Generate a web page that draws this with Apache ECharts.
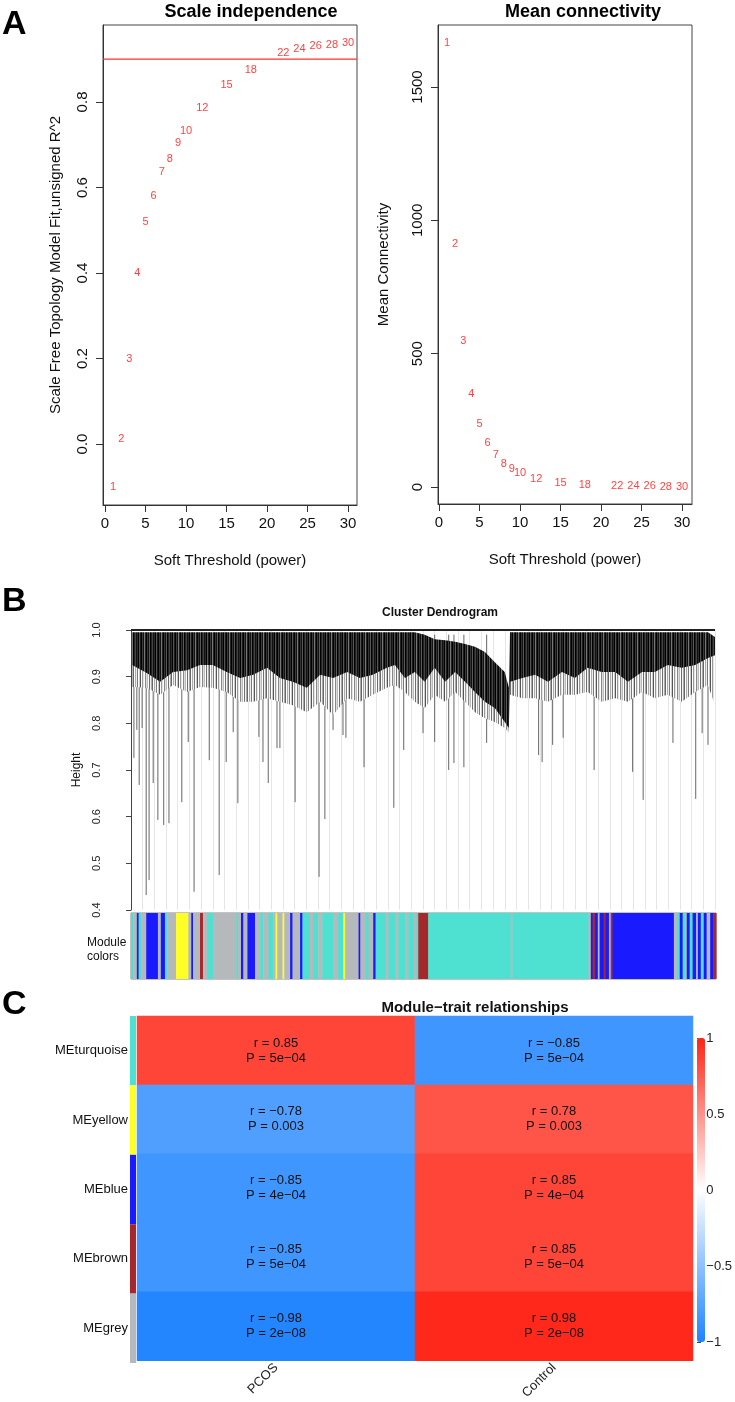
<!DOCTYPE html>
<html>
<head>
<meta charset="utf-8">
<script src="https://cdn.jsdelivr.net/npm/echarts@6/dist/echarts.min.js"></script>
<style>html,body{margin:0;padding:0;background:#fff}#main{width:735px;height:1402px}</style>
</head>
<body>
<div id="main"></div>
<script>
// ---- A: soft threshold selection ----
var powers = [1, 2, 3, 4, 5, 6, 7, 8, 9, 10, 12, 15, 18, 22, 24, 26, 28, 30];
var fitR2 = [-0.10, 0.012, 0.20, 0.40, 0.52, 0.58, 0.636, 0.666, 0.705, 0.733, 0.785, 0.84, 0.875, 0.914, 0.924, 0.931, 0.933, 0.937];
var meanK = [1665, 911, 547, 349, 236, 165, 120, 86, 67, 52, 30, 15, 7.5, 3, 2.5, 2, 1.5, 1.2];
var r2Cut = 0.9;
var powerTicks = [0, 5, 10, 15, 20, 25, 30];
var r2Ticks = [0, 0.2, 0.4, 0.6, 0.8];
var kTicks = [0, 500, 1000, 1500];

// ---- B: dendrogram (leaf order in per-mille, heights) ----
var leafPos      = [2, 27, 50, 72, 96, 118, 140, 164, 187, 209, 233, 255, 277, 301, 324, 346, 370, 392, 414, 438, 452, 469, 486, 503, 520, 538, 555, 572, 589, 606, 623, 640, 647, 649, 670, 692, 714, 738, 760, 782, 806, 829, 851, 875, 897, 919, 943, 966, 988, 1000];
var mergeTop     = [0.995, 0.995, 0.995, 0.995, 0.995, 0.995, 0.995, 0.995, 0.995, 0.995, 0.995, 0.995, 0.995, 0.995, 0.995, 0.995, 0.995, 0.995, 0.995, 0.995, 0.995, 0.995, 0.995, 0.99, 0.98, 0.978, 0.975, 0.97, 0.964, 0.953, 0.931, 0.91, 0.876, 0.995, 0.995, 0.995, 0.995, 0.995, 0.995, 0.995, 0.995, 0.995, 0.995, 0.995, 0.995, 0.995, 0.995, 0.995, 0.995, 0.985];
var coreBottom   = [0.925, 0.908, 0.889, 0.91, 0.914, 0.925, 0.925, 0.91, 0.897, 0.904, 0.919, 0.897, 0.889, 0.876, 0.904, 0.897, 0.91, 0.897, 0.904, 0.919, 0.925, 0.897, 0.91, 0.889, 0.919, 0.889, 0.91, 0.889, 0.867, 0.846, 0.833, 0.803, 0.79, 0.889, 0.897, 0.904, 0.889, 0.91, 0.897, 0.919, 0.91, 0.91, 0.889, 0.91, 0.91, 0.925, 0.919, 0.925, 0.94, 0.946];
var fringeBottom = [0.878, 0.876, 0.861, 0.882, 0.867, 0.878, 0.876, 0.867, 0.846, 0.846, 0.854, 0.846, 0.839, 0.824, 0.846, 0.818, 0.854, 0.846, 0.861, 0.876, 0.882, 0.867, 0.846, 0.833, 0.861, 0.846, 0.867, 0.846, 0.824, 0.811, 0.803, 0.79, 0.781, 0.861, 0.854, 0.854, 0.846, 0.861, 0.861, 0.867, 0.846, 0.854, 0.846, 0.867, 0.854, 0.861, 0.846, 0.867, 0.882, 0.839];
var dropPos    = [5, 10, 14, 19, 26, 31, 38, 46, 56, 65, 87, 98, 108, 134, 151, 163, 175, 183, 219, 226, 235, 250, 255, 281, 322, 332, 346, 363, 368, 399, 450, 467, 500, 520, 544, 553, 570, 609, 698, 704, 722, 740, 793, 859, 877, 928, 967, 978, 988];
var dropBottom = [0.726, 0.786, 0.668, 0.79, 0.432, 0.464, 0.672, 0.593, 0.582, 0.586, 0.631, 0.76, 0.439, 0.721, 0.475, 0.717, 0.781, 0.629, 0.771, 0.717, 0.672, 0.747, 0.747, 0.631, 0.471, 0.595, 0.786, 0.775, 0.769, 0.706, 0.619, 0.743, 0.779, 0.76, 0.7, 0.715, 0.706, 0.758, 0.732, 0.717, 0.754, 0.769, 0.7, 0.696, 0.636, 0.758, 0.638, 0.779, 0.754];

// module colour strip: start of each run (per-mille) and module
var moduleStart = [0, 4, 10, 13, 17, 26, 46, 51, 58, 62, 77, 98, 103, 106, 118, 123, 130, 140, 180, 183, 188, 192, 199, 212, 221, 226, 235, 243, 247, 250, 259, 262, 272, 276, 289, 293, 306, 312, 320, 327, 346, 354, 363, 366, 389, 392, 401, 406, 414, 418, 435, 440, 452, 457, 469, 474, 483, 488, 491, 508, 649, 652, 782, 786, 789, 793, 798, 801, 808, 811, 817, 820, 823, 928, 933, 938, 943, 947, 950, 955, 960, 966, 969, 974, 979, 984, 990, 995];
var moduleName = ['turquoise', 'grey', 'blue', 'turquoise', 'grey', 'blue', 'grey', 'blue', 'turquoise', 'grey', 'yellow', 'grey', 'blue', 'grey', 'brown', 'grey', 'turquoise', 'grey', 'turquoise', 'grey', 'blue', 'grey', 'blue', 'grey', 'turquoise', 'grey', 'turquoise', 'grey', 'yellow', 'grey', 'yellow', 'grey', 'blue', 'grey', 'blue', 'turquoise', 'grey', 'turquoise', 'grey', 'turquoise', 'grey', 'turquoise', 'yellow', 'grey', 'blue', 'grey', 'turquoise', 'grey', 'blue', 'turquoise', 'grey', 'turquoise', 'grey', 'turquoise', 'grey', 'turquoise', 'grey', 'turquoise', 'brown', 'turquoise', 'grey', 'turquoise', 'grey', 'blue', 'brown', 'blue', 'grey', 'blue', 'brown', 'blue', 'grey', 'brown', 'blue', 'grey', 'turquoise', 'blue', 'turquoise', 'grey', 'blue', 'turquoise', 'blue', 'grey', 'blue', 'turquoise', 'blue', 'grey', 'blue', 'brown'];

// ---- C: module-trait relationships ----
var traits = ['PCOS', 'Control'];
var modules = ['MEturquoise', 'MEyellow', 'MEblue', 'MEbrown', 'MEgrey'];
var moduleOf = ['turquoise', 'yellow', 'blue', 'brown', 'grey'];
var corPCOS = [0.85, -0.78, -0.85, -0.85, -0.98];
var corControl = [-0.85, 0.78, 0.85, 0.85, 0.98];
var pPCOS = ['5e-04', '0.003', '4e-04', '5e-04', '2e-08'];
var pControl = ['5e-04', '0.003', '4e-04', '5e-04', '2e-08'];

var swatch = {turquoise: '#4ee0d0', blue: '#1a1aff', brown: '#a5282c', yellow: '#ffff26', grey: '#b6b9bc'};
var FONT = 'Liberation Sans, Arial, sans-serif';
function minus(s) { return String(s).replace(/-/g, '\u2212'); }

// striped fills so the dense part of the tree reads as many thin branches
function stripes(cols) {
    var c = document.createElement('canvas');
    c.width = cols.length; c.height = 2;
    var ctx = c.getContext('2d');
    cols.forEach(function (col, i) { ctx.fillStyle = col; ctx.fillRect(i, 0, 1, 2); });
    return {type: 'pattern', image: c, repeat: 'repeat'};
}
var coreFill = stripes(['#111', '#2a2a2a', '#000', '#555', '#1a1a1a', '#000', '#3a3a3a', '#111', '#777', '#222', '#000', '#333', '#111', '#5a5a5a', '#000', '#222', '#444']);
var fringeFill = stripes(['#666', '#fff', '#aaa', '#eee', '#7a7a7a', '#fff', '#ccc', '#555', '#fff', '#999', '#e4e4e4', '#fff', '#888', '#ddd', '#bbb', '#fff', '#6e6e6e', '#f2f2f2', '#aaa']);

var myChart = echarts.init(document.getElementById('main'));

var heatData = [];
modules.forEach(function (m, i) {
    heatData.push({value: [0, i, corPCOS[i]], p: pPCOS[i]});
    heatData.push({value: [1, i, corControl[i]], p: pControl[i]});
});

function axisA(idx, min, max, ticks, extra) {
    return Object.assign({
        gridIndex: idx, type: 'value', min: min, max: max,
        axisLine: {show: true, onZero: false, lineStyle: {color: '#333'}},
        axisTick: {show: true, length: 7, customValues: ticks, lineStyle: {color: '#333'}},
        splitLine: {show: false}
    }, extra);
}
var plain = function (v) { return String(v); };

var option = {
    animation: false,
    backgroundColor: '#fff',
    textStyle: {fontFamily: FONT},
    title: [
        {text: 'Scale independence', left: 251, top: 3, padding: 0, textAlign: 'center', textStyle: {fontSize: 18, fontWeight: 'bold', color: '#000'}},
        {text: 'Mean connectivity', left: 583, top: 3, padding: 0, textAlign: 'center', textStyle: {fontSize: 18, fontWeight: 'bold', color: '#000'}},
        {text: 'Cluster Dendrogram', left: 440, top: 607, padding: 0, textAlign: 'center', textStyle: {fontSize: 12, fontWeight: 'bold', color: '#111'}},
        {text: 'Module\u2212trait relationships', left: 475, top: 1000, padding: 0, textAlign: 'center', textStyle: {fontSize: 15, fontWeight: 'bold', color: '#111'}}
    ],
    grid: [
        {left: 103, top: 25, width: 254, height: 480, show: true, borderColor: '#444', borderWidth: 1},
        {left: 438, top: 25, width: 254, height: 479, show: true, borderColor: '#444', borderWidth: 1},
        {left: 131, top: 630, width: 584, height: 280},
        {left: 131, top: 913, width: 585, height: 66, show: true, borderColor: '#888', borderWidth: 1},
        {left: 137, top: 1016, width: 556, height: 347},
        {left: 130, top: 1016, width: 6, height: 347},
        {left: 697, top: 1038, width: 8, height: 304}
    ],
    xAxis: [
        axisA(0, -0.25, 31.1, powerTicks, {name: 'Soft Threshold (power)', nameLocation: 'middle', nameGap: 48, nameTextStyle: {fontSize: 15, color: '#111'},
            axisLabel: {customValues: powerTicks, fontSize: 15, color: '#111', margin: 11, formatter: plain}}),
        axisA(1, -0.12, 31.23, powerTicks, {name: 'Soft Threshold (power)', nameLocation: 'middle', nameGap: 48, nameTextStyle: {fontSize: 15, color: '#111'},
            axisLabel: {customValues: powerTicks, fontSize: 15, color: '#111', margin: 11, formatter: plain}}),
        {gridIndex: 2, type: 'value', min: 0, max: 1000, interval: 20, axisLine: {show: false}, axisTick: {show: false}, axisLabel: {show: false}, splitLine: {show: true, lineStyle: {color: '#e6e6e6', width: 1}}},
        {gridIndex: 3, type: 'value', min: 0, max: 1000, show: false},
        {gridIndex: 4, type: 'category', data: traits, axisLine: {show: false}, axisTick: {show: false}, axisLabel: {rotate: 45, margin: 5, fontSize: 13, color: '#222'}},
        {gridIndex: 5, type: 'value', min: 0, max: 1, show: false},
        {gridIndex: 6, type: 'value', min: 0, max: 1, show: false}
    ],
    yAxis: [
        axisA(0, -0.1427, 0.980, r2Ticks, {name: 'Scale Free Topology Model Fit,unsigned R^2', nameLocation: 'middle', nameGap: 40, nameRotate: 90, nameTextStyle: {fontSize: 15, color: '#111'},
            axisLabel: {customValues: r2Ticks, fontSize: 15, color: '#111', rotate: 90, margin: 13, formatter: function (v) { return v.toFixed(1); }}}),
        axisA(1, -63.75, 1732.5, kTicks, {name: 'Mean Connectivity', nameLocation: 'middle', nameGap: 47, nameRotate: 90, nameTextStyle: {fontSize: 15, color: '#111'},
            axisLabel: {customValues: kTicks, fontSize: 15, color: '#111', rotate: 90, margin: 13, formatter: plain}}),
        {gridIndex: 2, type: 'value', min: 0.4, max: 1.0, interval: 0.1, offset: 23,
            name: 'Height', nameLocation: 'middle', nameGap: 25, nameRotate: 90, nameTextStyle: {fontSize: 12, color: '#111'},
            axisLine: {show: true, lineStyle: {color: '#444'}}, axisTick: {show: true, length: 5, lineStyle: {color: '#444'}},
            axisLabel: {rotate: 90, fontSize: 11, margin: 6, color: '#222', formatter: function (v) { return v.toFixed(1); }},
            splitLine: {show: false}},
        {gridIndex: 3, type: 'value', min: 0, max: 1, show: false},
        {gridIndex: 4, type: 'category', data: modules, inverse: true, axisLine: {show: false}, axisTick: {show: false}, axisLabel: {show: false}},
        {gridIndex: 5, type: 'category', data: modules, inverse: true, axisLine: {show: false}, axisTick: {show: false}, axisLabel: {fontSize: 13, color: '#111', margin: 2}},
        {gridIndex: 6, type: 'value', min: -1, max: 1, interval: 0.5, position: 'right',
            axisLine: {show: false}, axisTick: {show: true, length: 4, lineStyle: {color: '#444'}},
            axisLabel: {fontSize: 13, color: '#222', margin: 3, formatter: function (v) { return minus(v); }},
            splitLine: {show: false}}
    ],
    visualMap: {
        type: 'continuous', min: -1, max: 1, seriesIndex: 4, calculable: false,
        left: 697, top: 1038, itemWidth: 8, itemHeight: 304, padding: 0,
        inRange: {color: ['#1e84ff', '#ffffff', '#ff2415']}
    },
    graphic: [
        {type: 'text', left: 2, top: 8, style: {text: 'A', font: 'bold 34px ' + FONT, fill: '#000'}},
        {type: 'text', left: 2, top: 585, style: {text: 'B', font: 'bold 34px ' + FONT, fill: '#000'}},
        {type: 'text', left: 2, top: 988, style: {text: 'C', font: 'bold 34px ' + FONT, fill: '#000'}},
        {type: 'text', left: 87, top: 936, style: {text: 'Module\ncolors', font: '12px ' + FONT, fill: '#111', lineHeight: 14}}
    ],
    series: [
        {
            type: 'scatter', xAxisIndex: 0, yAxisIndex: 0, symbolSize: 1,
            itemStyle: {color: 'rgba(0,0,0,0)'},
            data: powers.map(function (p, i) { return [p, fitR2[i]]; }),
            label: {show: true, position: 'inside', fontSize: 11, color: '#ff1010', formatter: function (d) { return powers[d.dataIndex]; }}
        },
        {
            type: 'scatter', xAxisIndex: 1, yAxisIndex: 1, symbolSize: 1,
            itemStyle: {color: 'rgba(0,0,0,0)'},
            data: powers.map(function (p, i) { return [p, meanK[i]]; }),
            label: {show: true, position: 'inside', fontSize: 11, color: '#ff1010', formatter: function (d) { return powers[d.dataIndex]; }}
        },
        {
            type: 'custom', xAxisIndex: 2, yAxisIndex: 2, data: [[0, 1]], silent: true,
            renderItem: function (params, api) {
                var kids = [];
                dropPos.forEach(function (x, j) {
                    var a = api.coord([x, 0.99]), b = api.coord([x, dropBottom[j]]);
                    kids.push({type: 'line', shape: {x1: a[0], y1: a[1], x2: b[0], y2: b[1]}, style: {stroke: '#666', lineWidth: 1}});
                });
                var fr = [], core = [], i;
                for (i = 0; i < leafPos.length; i++) { fr.push(api.coord([leafPos[i], coreBottom[i] + 0.01])); core.push(api.coord([leafPos[i], mergeTop[i]])); }
                for (i = leafPos.length - 1; i >= 0; i--) { fr.push(api.coord([leafPos[i], fringeBottom[i]])); core.push(api.coord([leafPos[i], coreBottom[i]])); }
                kids.push({type: 'polygon', shape: {points: fr}, style: {fill: fringeFill}});
                kids.push({type: 'polygon', shape: {points: core}, style: {fill: coreFill}});
                var l = api.coord([0, 1.0]), r = api.coord([1000, 1.0]);
                kids.push({type: 'line', shape: {x1: l[0], y1: l[1], x2: r[0], y2: r[1]}, style: {stroke: '#222', lineWidth: 2}});
                return {type: 'group', children: kids};
            }
        },
        {
            type: 'custom', xAxisIndex: 3, yAxisIndex: 3, silent: true,
            data: moduleStart.map(function (s, i) { return [s, i + 1 < moduleStart.length ? moduleStart[i + 1] : 1000, i]; }),
            renderItem: function (params, api) {
                var a = api.coord([api.value(0), 1]), b = api.coord([api.value(1), 0]);
                return {type: 'rect', shape: {x: a[0], y: a[1], width: b[0] - a[0] + 0.5, height: b[1] - a[1]},
                    style: {fill: swatch[moduleName[api.value(2)]]}};
            }
        },
        {
            type: 'heatmap', xAxisIndex: 4, yAxisIndex: 4, data: heatData,
            label: {show: true, fontSize: 13, lineHeight: 15, color: '#111',
                formatter: function (d) { return 'r = ' + minus(d.value[2]) + '\nP = ' + minus(d.data.p); }}
        },
        {
            type: 'bar', xAxisIndex: 5, yAxisIndex: 5, barWidth: '100%', silent: true,
            data: moduleOf.map(function (m) { return {value: 1, itemStyle: {color: swatch[m]}}; })
        },
        {
            // soft-threshold cut line at R^2 = 0.9
            type: 'line', xAxisIndex: 0, yAxisIndex: 0, symbol: 'none', silent: true,
            lineStyle: {color: '#ff3030', width: 1.3},
            data: [[-0.25, r2Cut], [31.1, r2Cut]]
        }
    ]
};

myChart.setOption(option);
window.onresize = function () { myChart.resize(); };
</script>
</body>
</html>
